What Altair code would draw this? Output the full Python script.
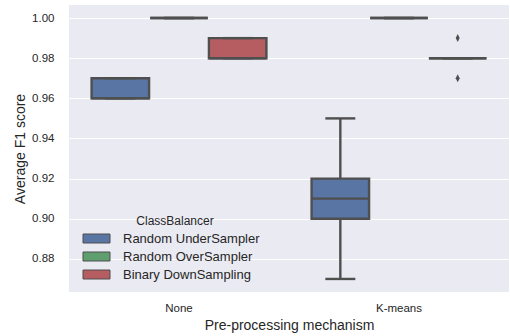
import altair as alt
import pandas as pd

# Box-plot summaries of the average F1 score
groups = ["None", "K-means"]
balancers = ["Random UnderSampler", "Random OverSampler", "Binary DownSampling"]
colors = ["#5875a3", "#5f9e6e", "#b55d60"]

# one entry per (group, balancer), in the order None x 3, K-means x 3
q1 = [0.96, 1.00, 0.98, 0.90, 1.00, 0.98]
median = [0.96, 1.00, 0.98, 0.91, 1.00, 0.98]
q3 = [0.97, 1.00, 0.99, 0.92, 1.00, 0.98]
whisker_lo = [0.96, 1.00, 0.98, 0.87, 1.00, 0.98]
whisker_hi = [0.97, 1.00, 0.99, 0.95, 1.00, 0.98]

outlier_group = ["K-means", "K-means"]
outlier_balancer = ["Binary DownSampling", "Binary DownSampling"]
outlier_value = [0.99, 0.97]

y_ticks = [0.88, 0.90, 0.92, 0.94, 0.96, 0.98, 1.00]
y_domain = [0.8635, 1.0065]

LINE = "#4f4f4f"
TEXT = "#262626"
FONT = "Liberation Sans"

stats = pd.DataFrame({
    "group": [g for g in groups for _ in balancers],
    "balancer": balancers * len(groups),
    "q1": q1, "median": median, "q3": q3,
    "lo": whisker_lo, "hi": whisker_hi,
})
outliers = pd.DataFrame({
    "group": outlier_group, "balancer": outlier_balancer, "value": outlier_value,
})

x_enc = alt.X(
    "group:N",
    sort=groups,
    scale=alt.Scale(domain=groups, paddingInner=0, paddingOuter=0),
    axis=alt.Axis(
        title="Pre-processing mechanism", labelAngle=0, ticks=False, domain=False,
        grid=False, labelPadding=10, titlePadding=5,
        labelFontSize=11.5, titleFontSize=14, labelColor=TEXT, titleColor=TEXT,
        labelFont=FONT, titleFont=FONT, titleFontWeight="normal",
    ),
)
xoff_enc = alt.XOffset(
    "balancer:N",
    sort=balancers,
    scale=alt.Scale(domain=balancers, paddingInner=0.02, paddingOuter=0.385),
)
y_scale = alt.Scale(domain=y_domain, nice=False, zero=False)
y_axis = alt.Axis(
    title="Average F1 score", values=y_ticks, format=".2f", ticks=False,
    domain=False, grid=True, gridColor="white", gridWidth=1.2,
    labelPadding=15, titlePadding=4, labelFontSize=11.5, titleFontSize=14,
    labelColor=TEXT, titleColor=TEXT, labelFont=FONT, titleFont=FONT,
    titleFontWeight="normal",
)

base = alt.Chart(stats).encode(x=x_enc, xOffset=xoff_enc)

boxes = base.mark_bar(stroke=LINE, strokeWidth=2.4, opacity=1).encode(
    y=alt.Y("q1:Q", scale=y_scale, axis=y_axis),
    y2="q3:Q",
    color=alt.Color(
        "balancer:N",
        sort=balancers,
        scale=alt.Scale(domain=balancers, range=colors),
        legend=alt.Legend(
            title="ClassBalancer", orient="none", legendX=21, legendY=211,
            padding=0, titleFontSize=12, labelFontSize=13, titleColor=TEXT,
            labelColor=TEXT, titleFont=FONT, labelFont=FONT,
            titleFontWeight="normal", titleAnchor="middle", titleAlign="center",
            titlePadding=4, symbolType="M-3,-1L3,-1L3,1L-3,1Z", symbolSize=81,
            symbolStrokeColor=LINE, symbolStrokeWidth=1, symbolOpacity=1,
            labelOffset=20, rowPadding=4,
        ),
    ),
)

whisk_hi = base.mark_rule(color=LINE, strokeWidth=2.4).encode(
    y=alt.Y("q3:Q", scale=y_scale), y2="hi:Q"
)
whisk_lo = base.mark_rule(color=LINE, strokeWidth=2.4).encode(
    y=alt.Y("lo:Q", scale=y_scale), y2="q1:Q"
)
cap_hi = base.mark_tick(color=LINE, thickness=2.4, size=30, opacity=1).encode(
    y=alt.Y("hi:Q", scale=y_scale)
)
cap_lo = base.mark_tick(color=LINE, thickness=2.4, size=30, opacity=1).encode(
    y=alt.Y("lo:Q", scale=y_scale)
)
medians = base.mark_tick(color=LINE, thickness=2.4, size=57.5, opacity=1).encode(
    y=alt.Y("median:Q", scale=y_scale)
)

fliers = alt.Chart(outliers).mark_point(
    shape="M0,-1L0.5,0L0,1L-0.5,0Z", size=64, filled=True, color=LINE, opacity=1
).encode(
    x=x_enc, xOffset=xoff_enc, y=alt.Y("value:Q", scale=y_scale)
)

chart = alt.layer(
    boxes, whisk_hi, whisk_lo, cap_hi, cap_lo, medians, fliers
).properties(
    width=440,
    height=287,
    autosize=alt.AutoSizeParams(type="none"),
    padding={"left": 69, "top": 5, "right": 1, "bottom": 44},
    background="white",
).configure_view(
    fill="#EAEAF2", stroke=None
)

chart.save("out.html", embed_options={"renderer": "svg", "actions": False})
